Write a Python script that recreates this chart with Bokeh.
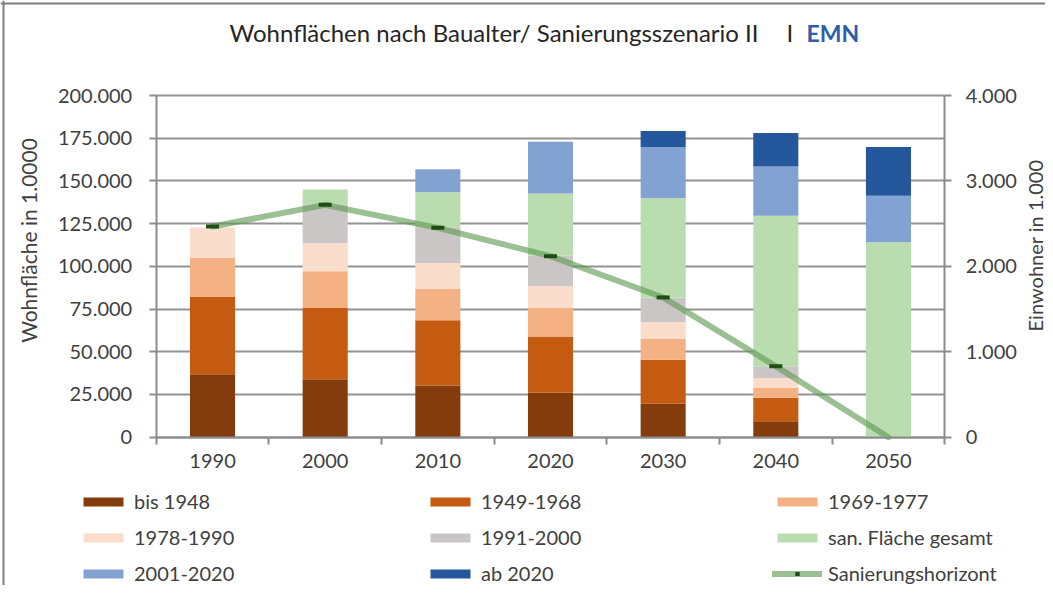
import math
from bokeh.plotting import figure
from bokeh.models import (Range1d, LinearAxis, FixedTicker, Legend, LegendItem,
                          Label, ColumnDataSource, Grid, Span)
from bokeh.embed import file_html
from bokeh.resources import INLINE

# ---------------- data ----------------
years = ["1990", "2000", "2010", "2020", "2030", "2040", "2050"]
series_names = ["bis 1948", "1949-1968", "1969-1977", "1978-1990", "1991-2000",
                "san. Fläche gesamt", "2001-2020", "ab 2020"]
bis_1948 = [36800, 33900, 30300, 26100, 19600, 9400, 0]
b_1949_1968 = [45200, 41700, 38100, 32900, 25800, 13700, 0]
b_1969_1977 = [22900, 21500, 18400, 16600, 12100, 6000, 0]
b_1978_1990 = [17800, 16400, 15100, 12700, 10000, 5500, 0]
b_1991_2000 = [0, 22900, 21000, 18000, 14300, 7000, 0]
san_gesamt = [0, 8600, 20500, 36400, 58100, 88000, 114100]
b_2001_2020 = [0, 0, 13500, 30300, 29900, 28800, 27200]
ab_2020 = [0, 0, 0, 0, 9400, 19600, 28600]
sanierungshorizont = [2466, 2720, 2451, 2119, 1636, 831, 0]
left_ticks = [0, 25000, 50000, 75000, 100000, 125000, 150000, 175000, 200000]
right_ticks = [0, 1000, 2000, 3000, 4000]
left_max, right_max = 200000, 4000

colors = ["#843C0C", "#C55A11", "#F4B183", "#FADDCB", "#CAC6C5",
          "#BADDB0", "#82A2D2", "#25579C"]
FONT = "Lato"
TXT = "#404040"
AXC = "#8C8C8C"

# ---------------- layout geometry (pixels) ----------------
W, H = 1045, 585
PX_L, PX_R, PX_T, PX_B = 155.7, 944.3, 95.0, 436.7
n = len(years)
cat_w = (PX_R - PX_L) / n
x0 = -0.5 - PX_L / cat_w
x1 = x0 + W / cat_w
uy = left_max / (PX_B - PX_T)
ur = right_max / (PX_B - PX_T)

xs = list(range(n))
keys = ["s%d" % i for i in range(len(series_names))]
values = [bis_1948, b_1949_1968, b_1969_1977, b_1978_1990, b_1991_2000,
          san_gesamt, b_2001_2020, ab_2020]
data = {"x": xs}
for k, v in zip(keys, values):
    data[k] = v
source = ColumnDataSource(data)

p = figure(width=W, height=H, output_backend="svg", toolbar_location=None,
           x_range=Range1d(x0, x1),
           y_range=Range1d(-(H - PX_B) * uy, PX_B * uy),
           min_border=0, min_border_left=0, min_border_right=0,
           min_border_top=0, min_border_bottom=0,
           x_axis_type=None, y_axis_type=None)
p.outline_line_color = None
p.background_fill_color = "white"
p.border_fill_color = "white"
p.extra_y_ranges = {"pop": Range1d(-(H - PX_B) * ur, PX_B * ur)}

# grid
g = Grid(dimension=1, ticker=FixedTicker(ticks=left_ticks),
         grid_line_color="#939393", grid_line_width=2)
if "cross_bounds" in Grid.properties():
    g.cross_bounds = (-0.5, n - 0.5)
p.add_layout(g)


def style_axis(ax, standoff):
    ax.axis_line_color = AXC
    ax.axis_line_width = 2
    ax.major_tick_line_color = AXC
    ax.major_tick_line_width = 2
    ax.major_tick_in = 0
    ax.major_tick_out = 7
    ax.minor_tick_line_color = None
    ax.major_label_standoff = standoff
    ax.major_label_text_font = FONT
    ax.major_label_text_font_size = "20px"
    ax.major_label_text_color = TXT


# left axis
la = LinearAxis(ticker=FixedTicker(ticks=left_ticks, minor_ticks=[]),
                fixed_location=-0.5, bounds=(0, left_max))
la.major_label_overrides = {t: f"{t:,}".replace(",", ".") for t in left_ticks}
style_axis(la, 17)
p.add_layout(la, "left")

# right axis
ra = LinearAxis(y_range_name="pop", ticker=FixedTicker(ticks=right_ticks, minor_ticks=[]),
                fixed_location=n - 0.5, bounds=(0, right_max))
ra.major_label_overrides = {t: f"{t:,}".replace(",", ".") for t in right_ticks}
style_axis(ra, 14)
p.add_layout(ra, "right")

# bottom axis
xa = LinearAxis(ticker=FixedTicker(ticks=xs, minor_ticks=[i - 0.5 for i in range(n + 1)]),
                fixed_location=0, bounds=(-0.5, n - 0.5))
xa.major_label_overrides = {i: y for i, y in enumerate(years)}
style_axis(xa, 10)
xa.major_tick_line_color = None
xa.major_tick_out = 0
xa.minor_tick_line_color = AXC
xa.minor_tick_line_width = 2
xa.minor_tick_in = 0
xa.minor_tick_out = 7
p.add_layout(xa, "below")

# bars
bars = p.vbar_stack(keys, x="x", width=0.4, fill_color=colors, line_color=None,
                    source=source)

# line
ln = p.line(xs, sanierungshorizont, y_range_name="pop", line_width=6,
            line_color="#5E9A52", line_alpha=0.62, line_join="round", line_cap="round")
mx = [x for x, h in zip(xs, sanierungshorizont) if h > 0]
my = [h for h in sanierungshorizont if h > 0]
mk = p.scatter(mx, my, y_range_name="pop", marker="dash", size=13, line_width=4,
               line_color="#1F4E14")

# legend (3 columns)
items = [LegendItem(label=nm, renderers=[r]) for nm, r in zip(series_names, bars)]
items.append(LegendItem(label="Sanierungshorizont", renderers=[ln, mk]))
legend = Legend(items=items, ncols=3, orientation="horizontal",
                location=(78, 0), glyph_width=50, glyph_height=11,
                label_standoff=6, spacing=12, padding=0, margin=0,
                border_line_color=None, background_fill_alpha=0,
                label_text_font=FONT, label_text_font_size="20px",
                label_text_color=TXT, label_height=24, label_width=279)
p.add_layout(legend, "center")

# frame lines of the chart area
p.add_layout(Span(location=3, location_units="screen", dimension="height",
                  line_color="#7F7F7F", line_width=2))
p.add_layout(Span(location=H - 3, location_units="screen", dimension="width",
                  line_color="#7F7F7F", line_width=2))

# title (two colours) and axis titles
p.add_layout(Label(x=229, y=H - 32, x_units="screen", y_units="screen",
                   text="Wohnflächen nach Baualter/ Sanierungsszenario II",
                   text_font=FONT, text_font_size="24px", text_color="#262626",
                   text_baseline="middle", text_align="left"))
p.add_layout(Label(x=786, y=H - 32, x_units="screen", y_units="screen",
                   text="I", text_font=FONT, text_font_size="24px", text_color="#262626",
                   text_baseline="middle", text_align="left"))
p.add_layout(Label(x=806, y=H - 32, x_units="screen", y_units="screen",
                   text="EMN", text_font=FONT, text_font_size="23px",
                   text_font_style="bold", text_color="#2E5EA8",
                   text_baseline="middle", text_align="left"))
p.add_layout(Label(x=28, y=H - 240, x_units="screen", y_units="screen",
                   text="Wohnfläche in 1.0000", angle=math.pi / 2,
                   text_font=FONT, text_font_size="21px", text_color=TXT,
                   text_baseline="middle", text_align="center"))
p.add_layout(Label(x=1034, y=H - 245, x_units="screen", y_units="screen",
                   text="Einwohner in 1.000", angle=math.pi / 2,
                   text_font=FONT, text_font_size="20px", text_color=TXT,
                   text_baseline="middle", text_align="center"))

open("out.html", "w").write(file_html(p, INLINE))
